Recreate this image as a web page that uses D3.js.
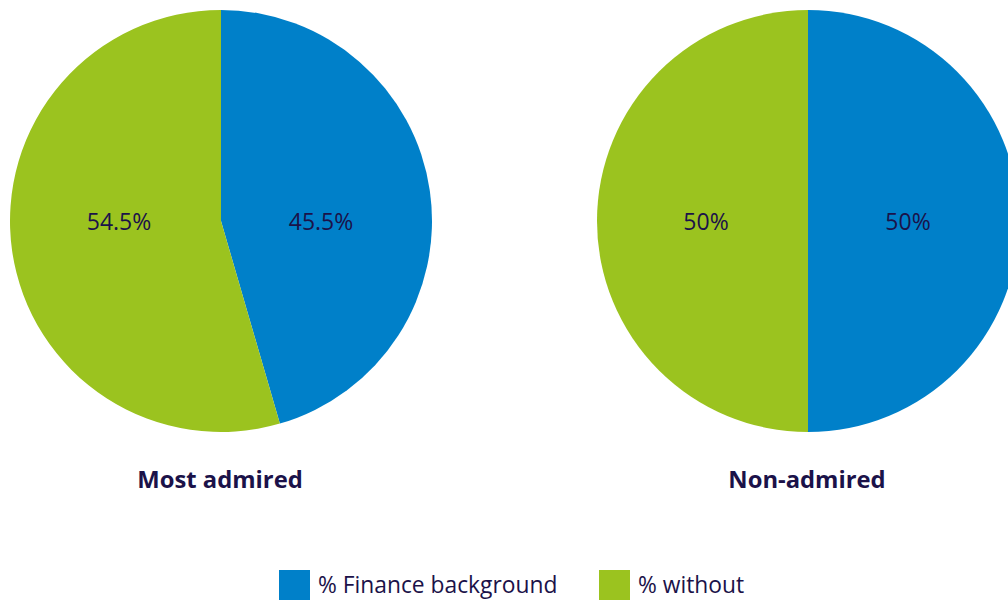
<!DOCTYPE html>
<html><head><meta charset="utf-8">
<script src="https://cdn.jsdelivr.net/npm/d3@7"></script>
<style>body{margin:0;background:#fff}svg{display:block}</style>
</head><body>
<svg id="c" width="1008" height="600"></svg>
<script>
const categories = ["% Finance background", "% without"];
const charts = ["Most admired", "Non-admired"];
const mostAdmired = [45.5, 54.5];
const nonAdmired = [50, 50];
const labels = [["45.5%", "54.5%"], ["50%", "50%"]];
const colors = ["#0080c9", "#9bc31f"];
const textColor = "#1b1249";

const svg = d3.select("#c");
const font = "'Open Sans', 'Noto Sans', sans-serif";
const R = 211;
const centers = [[221, 221], [808, 221]];
const datasets = [mostAdmired, nonAdmired];
const pie = d3.pie().sort(null).value(d => d);
const arc = d3.arc().innerRadius(0).outerRadius(R);
const color = d3.scaleOrdinal().domain(categories).range(colors);

datasets.forEach((vals, i) => {
  const g = svg.append("g").attr("transform", `translate(${centers[i][0]},${centers[i][1]})`);
  g.selectAll("path").data(pie(vals)).join("path")
    .attr("d", arc).attr("fill", (d, j) => color(categories[j]));
  g.selectAll("text.lbl").data(labels[i]).join("text")
    .attr("class", "lbl")
    .attr("x", (d, j) => j === 0 ? 100 : -102)
    .attr("y", 9)
    .attr("text-anchor", "middle")
    .attr("font-family", font).attr("font-size", 23)
    .attr("fill", textColor).text(d => d);
  svg.append("text")
    .attr("x", centers[i][0] - 1).attr("y", 488)
    .attr("text-anchor", "middle")
    .attr("font-family", font).attr("font-size", 23.8).attr("font-weight", "bold")
    .attr("fill", textColor).text(charts[i]);
});

const legX = [279, 599];
categories.forEach((c, j) => {
  svg.append("rect").attr("x", legX[j]).attr("y", 570).attr("width", 31).attr("height", 30)
    .attr("fill", color(c));
  svg.append("text").attr("x", legX[j] + 39).attr("y", 593)
    .attr("font-family", font).attr("font-size", 22.8)
    .attr("fill", textColor).text(c);
});
</script>
</body></html>
